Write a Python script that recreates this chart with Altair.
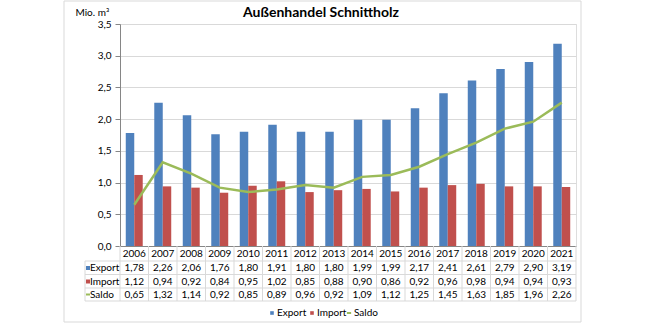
import altair as alt
import pandas as pd

years = [str(y) for y in range(2006, 2022)]
export_vals = [1.78, 2.26, 2.06, 1.76, 1.80, 1.91, 1.80, 1.80, 1.99, 1.99, 2.17, 2.41, 2.61, 2.79, 2.90, 3.19]
import_vals = [1.12, 0.94, 0.92, 0.84, 0.95, 1.02, 0.85, 0.88, 0.90, 0.86, 0.92, 0.96, 0.98, 0.94, 0.94, 0.93]
saldo_vals = [0.65, 1.32, 1.14, 0.92, 0.85, 0.89, 0.96, 0.92, 1.09, 1.12, 1.25, 1.45, 1.63, 1.85, 1.96, 2.26]
series_names = ["Export", "Import", "Saldo"]
y_ticks = [0, 0.5, 1.0, 1.5, 2.0, 2.5, 3.0, 3.5]

rows = []
for s, vals in zip(series_names, [export_vals, import_vals, saldo_vals]):
    for yr, v in zip(years, vals):
        rows.append({"year": yr, "series": s, "value": v})
df = pd.DataFrame(rows)
year_df = pd.DataFrame({"year": years})
one = pd.DataFrame({"k": [0]})

FONT = "Lato"
BLUE, RED, GREEN = "#4F81BD", "#C0504D", "#9BBB59"
GRID = "#D9D9D9"
AXIS = "#868686"
COLORS = {"Export": BLUE, "Import": RED, "Saldo": GREEN}
W, H = 456, 222

# table row geometry (relative to plot origin)
ROW_Y = {"year": 230, "Export": 244, "Import": 257.5, "Saldo": 270.5}
HLINES = [237, 250.5, 264, 277]
TABLE_TOP = 222
TABLE_LEFT = -35

x_enc = alt.X("year:N", sort=years,
              scale=alt.Scale(paddingInner=0, paddingOuter=0),
              axis=alt.Axis(title=None, labels=False, ticks=False, domain=True,
                            domainColor=AXIS, grid=False))

y_axis = alt.Axis(values=y_ticks, tickCount=8, labelOverlap=False,
                  labelExpr="replace(format(datum.value, '.1f'), '.', ',')",
                  grid=True, gridColor=GRID, tickColor=AXIS, domainColor=AXIS,
                  tickSize=5, labelFontSize=10, labelFont=FONT, labelColor="#000",
                  labelPadding=4,
                  title="Mio. m³", titleAngle=0, titleX=-45, titleY=-12,
                  titleAlign="left", titleBaseline="middle", titleFontWeight="normal",
                  titleFontSize=10, titleFont=FONT, titleColor="#000")
y_scale = alt.Scale(domain=[0, 3.5], nice=False)

frame = alt.Chart(one).mark_rect(fill="transparent", stroke=GRID, strokeWidth=1).encode(
    x=alt.value(-56), x2=alt.value(461), y=alt.value(-23), y2=alt.value(298))

bars = alt.Chart(df).transform_filter("datum.series !== 'Saldo'").mark_bar().encode(
    x=x_enc,
    xOffset=alt.XOffset("series:N", sort=["Export", "Import"],
                        scale=alt.Scale(paddingInner=0, paddingOuter=0.68)),
    y=alt.Y("value:Q", scale=y_scale, axis=y_axis),
    color=alt.Color("series:N",
                    scale=alt.Scale(domain=["Export", "Import"], range=[BLUE, RED]),
                    legend=alt.Legend(title=None, orient="none", legendX=147, legendY=284,
                                      direction="horizontal", symbolType="square",
                                      symbolSize=13, labelFontSize=10, labelFont=FONT,
                                      labelColor="#000", labelOffset=0, columnPadding=0)),
)

line = alt.Chart(df).transform_filter("datum.series === 'Saldo'").mark_line(strokeWidth=2.5).encode(
    x=x_enc,
    y=alt.Y("value:Q", scale=y_scale, axis=y_axis),
    stroke=alt.Stroke("series:N",
                      scale=alt.Scale(domain=["Saldo"], range=[GREEN]),
                      legend=alt.Legend(title=None, orient="none", legendX=224, legendY=284,
                                        symbolType="stroke", symbolSize=18, symbolStrokeWidth=2,
                                        labelFontSize=10, labelFont=FONT, labelColor="#000",
                                        labelOffset=0)),
)

layers = [frame, bars, line]

# table grid
layers.append(alt.Chart(year_df).mark_rule(color=GRID, strokeWidth=1).encode(
    x=alt.X("year:N", sort=years, bandPosition=0),
    y=alt.value(TABLE_TOP), y2=alt.value(HLINES[-1])))
layers.append(alt.Chart(one).mark_rule(color=GRID, strokeWidth=1).encode(
    x=alt.value(W), y=alt.value(TABLE_TOP), y2=alt.value(HLINES[-1])))
layers.append(alt.Chart(one).mark_rule(color=GRID, strokeWidth=1).encode(
    x=alt.value(TABLE_LEFT), y=alt.value(HLINES[0]), y2=alt.value(HLINES[-1])))
for hy in HLINES:
    layers.append(alt.Chart(one).mark_rule(color=GRID, strokeWidth=1).encode(
        x=alt.value(TABLE_LEFT), x2=alt.value(W), y=alt.value(hy)))

# year header
layers.append(alt.Chart(year_df).mark_text(fontSize=10, font=FONT, color="#000",
                                           baseline="middle").encode(
    x=alt.X("year:N", sort=years), y=alt.value(ROW_Y["year"]), text="year:N"))

# value rows
for s in series_names:
    layers.append(
        alt.Chart(df).transform_filter(f"datum.series === '{s}'")
        .transform_calculate(label="replace(format(datum.value, '.2f'), '.', ',')")
        .mark_text(fontSize=10, font=FONT, color="#000", baseline="middle")
        .encode(x=alt.X("year:N", sort=years), y=alt.value(ROW_Y[s]), text="label:N"))
    layers.append(
        alt.Chart(pd.DataFrame({"series": [s]}))
        .mark_text(fontSize=10, font=FONT, color="#000", baseline="middle", align="left")
        .encode(x=alt.value(TABLE_LEFT + 5), y=alt.value(ROW_Y[s]), text="series:N"))
    if s == "Saldo":
        layers.append(alt.Chart(one).mark_rule(color=GREEN, strokeWidth=2).encode(
            x=alt.value(TABLE_LEFT + 1), x2=alt.value(TABLE_LEFT + 5), y=alt.value(ROW_Y[s])))
    else:
        layers.append(alt.Chart(one).mark_square(size=16, filled=True, color=COLORS[s], opacity=1).encode(
            x=alt.value(TABLE_LEFT + 3), y=alt.value(ROW_Y[s])))

chart = alt.layer(*layers).properties(
    width=W, height=H,
    title=alt.Title("Außenhandel Schnittholz", fontSize=14, font=FONT, fontWeight="bold",
                    color="#000", anchor="middle", dx=-27, offset=-19),
    autosize=alt.AutoSizeParams(type="none"),
    padding={"left": 120, "top": 24, "right": 70, "bottom": 77},
).configure_view(stroke=None).configure(background="white")

chart.save("out.html", embed_options={"renderer": "svg", "actions": False})
